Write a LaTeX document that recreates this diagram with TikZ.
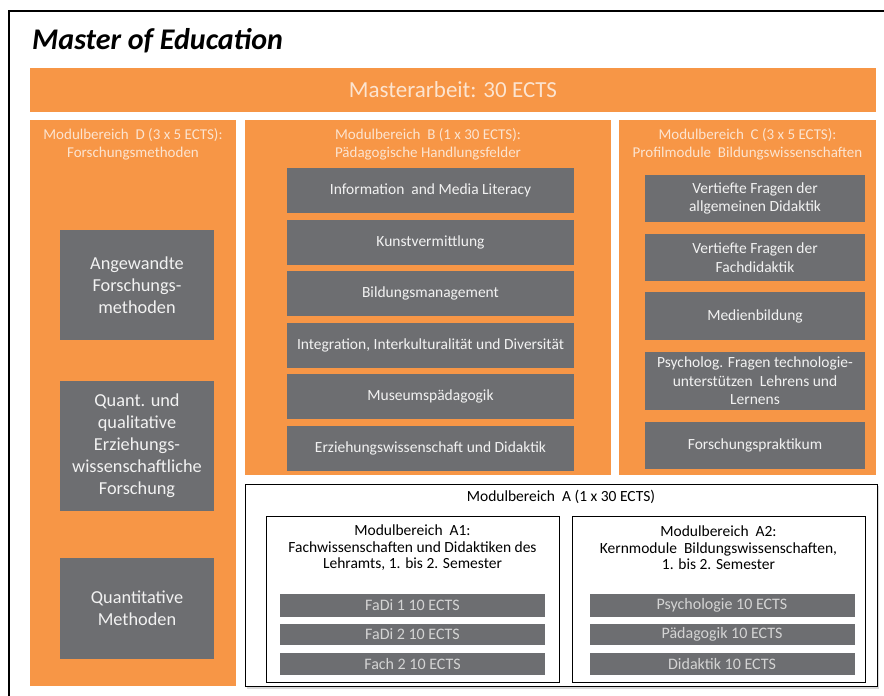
\documentclass[tikz,border=0pt]{standalone}
\usepackage{fontspec}
\setmainfont{Carlito}
\usetikzlibrary{positioning}
\definecolor{orangeA}{HTML}{F79646}
\definecolor{grayA}{HTML}{6D6E71}
\definecolor{creamA}{HTML}{FCE4D0}
\definecolor{barText}{HTML}{D4D4D4}
\tikzset{
  bereich/.style={fill=orangeA, inner sep=0pt, outer sep=0pt},
  bertitle/.style={text=creamA, align=center, inner sep=0pt, font=\fontsize{15}{18}\selectfont},
  modul/.style={fill=grayA, text=white!95!black, inner sep=0pt, align=center, font=\fontsize{15.5}{18.5}\selectfont},
  bigmodul/.style={modul, font=\fontsize{18.3}{22}\selectfont},
  abox/.style={draw=black, fill=white, line width=0.8pt, inner sep=0pt},
  atitle/.style={text=black, align=center, inner sep=0pt, font=\fontsize{15.5}{16.5}\selectfont},
  abar/.style={fill=grayA, text=barText, inner sep=0pt, minimum width=265, font=\fontsize{16}{16}\selectfont}
}
\begin{document}
\begin{tikzpicture}[x=1pt,y=-1pt]
    \useasboundingbox (0,0) rectangle (884,696);
    \clip (0,0) rectangle (884,696);
    \draw[line width=2.5pt] (9,11) rectangle (900,720);

    \node[anchor=base west, inner sep=0pt, font=\fontsize{30}{34}\selectfont\bfseries\itshape] (title) at (32,49) {Master of Education};

    \node[bereich, minimum width=846, minimum height=44, text=creamA, font=\fontsize{23}{26}\selectfont] (arbeit) at (453,90) {Masterarbeit: 30 ECTS};

    % Modulbereich D
    \node[bereich, minimum width=206, minimum height=566] (D) at (133,403) {};
    \node[bertitle] (Dtitle) at (133,144) {Modulbereich\ \ D (3 x 5 ECTS):\\Forschungsmethoden};
    \node[bigmodul, minimum width=154, minimum height=110] (D1) at (137,285) {Angewandte\\Forschungs-\\methoden};
    \node[bigmodul, minimum width=154, minimum height=130] (D2) at (137,446) {Quant. und\\qualitative\\Erziehungs-\\wissenschaftliche\\Forschung};
    \node[bigmodul, minimum width=154, minimum height=101] (D3) at (137,608.5) {Quantitative\\Methoden};

    % Modulbereich B
    \node[bereich, minimum width=366, minimum height=355] (B) at (428,297.5) {};
    \node[bertitle] (Btitle) at (428,144) {Modulbereich\ \ B (1 x 30 ECTS):\\Pädagogische Handlungsfelder};
    \node[modul, minimum width=287, minimum height=45] (B1) at (430.5,190.5) {Information\ \ and Media Literacy};
    \node[modul, minimum width=287, minimum height=45] (B2) at (430.5,242) {Kunstvermittlung};
    \node[modul, minimum width=287, minimum height=45] (B3) at (430.5,293.5) {Bildungsmanagement};
    \node[modul, minimum width=287, minimum height=45] (B4) at (430.5,345) {Integration, Interkulturalität\ und Diversität};
    \node[modul, minimum width=287, minimum height=45] (B5) at (430.5,396.5) {Museumspädagogik};
    \node[modul, minimum width=287, minimum height=45] (B6) at (430.5,448) {Erziehungswissenschaft und Didaktik};

    % Modulbereich C
    \node[bereich, minimum width=257, minimum height=355] (C) at (747.5,297.5) {};
    \node[bertitle] (Ctitle) at (747.5,144) {Modulbereich\ \ C (3 x 5 ECTS):\\Profilmodule\ \ Bildungswissenschaften};
    \node[modul, minimum width=220, minimum height=47] (C1) at (755,198.5) {Vertiefte Fragen der\\allgemeinen Didaktik};
    \node[modul, minimum width=220, minimum height=47] (C2) at (755,257.5) {Vertiefte Fragen der\\Fachdidaktik};
    \node[modul, minimum width=220, minimum height=48] (C3) at (755,316) {Medienbildung};
    \node[modul, minimum width=220, minimum height=58] (C4) at (755,381) {Psycholog. Fragen technologie-\\unterstützen\ \ Lehrens und\\Lernens};
    \node[modul, minimum width=220, minimum height=47] (C5) at (755,445.5) {Forschungspraktikum};

    % Modulbereich A
    \fill[black!15] (247,486) rectangle (879,688.5);
    \node[abox, minimum width=632, minimum height=202] (A) at (561,585) {};
    \node[atitle] (Atitle) at (561,497) {Modulbereich\ \ A (1 x 30 ECTS)};
    \node[abox, minimum width=293, minimum height=166] (A1) at (412.5,599) {};
    \node[atitle] (A1title) at (412.5,548) {Modulbereich\ \ A1:\\Fachwissenschaften und Didaktiken des\\Lehramts, 1. bis 2. Semester};
    \node[abar, minimum height=23] (A11) at (412.5,605.5) {FaDi 1 10 ECTS};
    \node[abar, minimum height=21] (A12) at (412.5,634.5) {FaDi 2 10 ECTS};
    \node[abar, minimum height=22] (A13) at (412.5,664) {Fach 2 10 ECTS};
    \node[abox, minimum width=293, minimum height=166] (A2) at (718.5,599.5) {};
    \node[atitle] (A2title) at (718.5,548) {Modulbereich\ \ A2:\\Kernmodule\ \ Bildungswissenschaften,\\1. bis 2. Semester};
    \node[abar, minimum height=23] (A21) at (722,605.5) {Psychologie 10 ECTS};
    \node[abar, minimum height=21] (A22) at (722,634.5) {Pädagogik 10 ECTS};
    \node[abar, minimum height=22] (A23) at (722,664) {Didaktik 10 ECTS};
\end{tikzpicture}
\end{document}
